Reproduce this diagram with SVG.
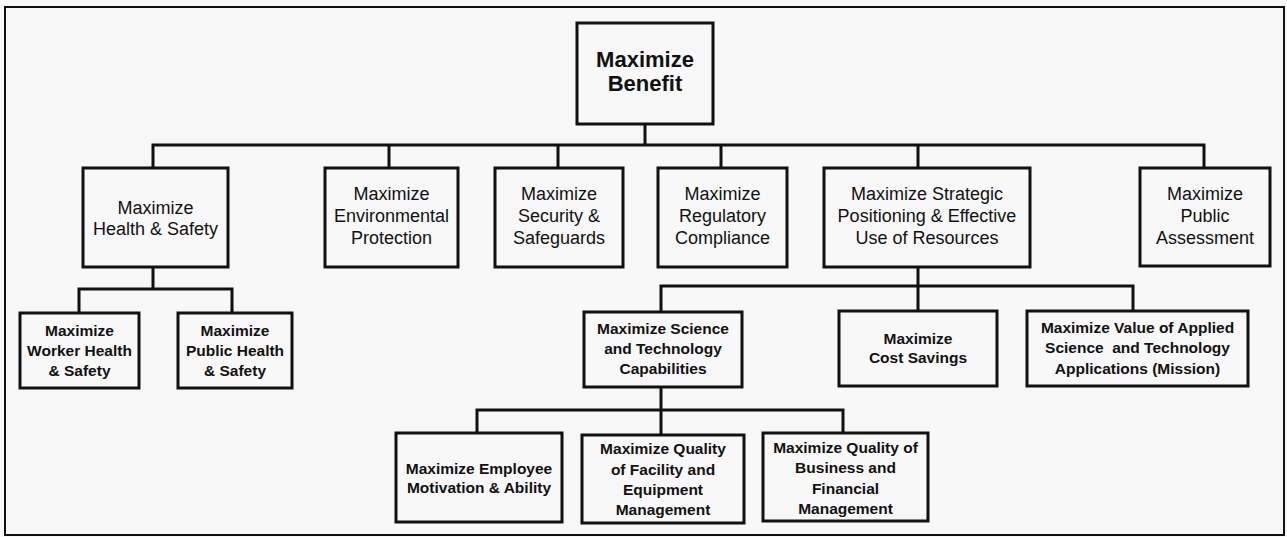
<svg xmlns="http://www.w3.org/2000/svg" width="1287" height="537" viewBox="0 0 1287 537">
<style>
.box{fill:#f8f8f8;stroke:#111;stroke-width:3}
.con{fill:none;stroke:#111;stroke-width:3;stroke-linecap:square}
text{font-family:"Liberation Sans",Arial,sans-serif;fill:#111;text-anchor:middle}
.t0{font-size:22px;font-weight:bold}
.t1{font-size:18px}
.t2{font-size:15.5px;font-weight:bold}
</style>
<rect x="0" y="0" width="1287" height="537" fill="#f8f8f8"/>
<rect x="5" y="7" width="1279" height="528" fill="none" stroke="#111" stroke-width="2"/>
<g id="connectors">
<path class="con" d="M645,124 V145 M153,145 H1204 M153,145 V168 M389,145 V168 M558,145 V168 M721,145 V168 M918,145 V168 M1204,145 V168"/>
<path class="con" d="M153,267 V289 M79,289 H232 M79,289 V313 M232,289 V313"/>
<path class="con" d="M918,267 V286 M661,286 H1133 M661,286 V312 M918,286 V311 M1133,286 V311"/>
<path class="con" d="M661,387 V410 M477,410 H843 M477,410 V433 M661,410 V435 M843,410 V433"/>
</g>
<g id="n-root"><rect class="box" x="577" y="23" width="136" height="101"/><text class="t0" x="645" y="67">Maximize</text><text class="t0" x="645" y="91">Benefit</text></g>
<g id="n-health"><rect class="box" x="83" y="168" width="145" height="99"/><text class="t1" x="155.5" y="213.5">Maximize</text><text class="t1" x="155.5" y="234.5">Health &amp; Safety</text></g>
<g id="n-env"><rect class="box" x="325" y="168" width="133" height="99"/><text class="t1" x="391.5" y="199.5">Maximize</text><text class="t1" x="391.5" y="221.5">Environmental</text><text class="t1" x="391.5" y="243.5">Protection</text></g>
<g id="n-sec"><rect class="box" x="495" y="168" width="128" height="99"/><text class="t1" x="559" y="199.5">Maximize</text><text class="t1" x="559" y="221.5">Security &amp;</text><text class="t1" x="559" y="243.5">Safeguards</text></g>
<g id="n-reg"><rect class="box" x="658" y="168" width="129" height="99"/><text class="t1" x="722.5" y="199.5">Maximize</text><text class="t1" x="722.5" y="221.5">Regulatory</text><text class="t1" x="722.5" y="243.5">Compliance</text></g>
<g id="n-strat"><rect class="box" x="824" y="168" width="206" height="99"/><text class="t1" x="927" y="199.5">Maximize Strategic</text><text class="t1" x="927" y="221.5">Positioning &amp; Effective</text><text class="t1" x="927" y="243.5">Use of Resources</text></g>
<g id="n-pub"><rect class="box" x="1140" y="168" width="130" height="98"/><text class="t1" x="1205" y="199.5">Maximize</text><text class="t1" x="1205" y="221.5">Public</text><text class="t1" x="1205" y="243.5">Assessment</text></g>
<g id="n-worker"><rect class="box" x="20" y="313" width="119" height="75"/><text class="t2" x="79.5" y="335.5">Maximize</text><text class="t2" x="79.5" y="355.5">Worker Health</text><text class="t2" x="79.5" y="375.5">&amp; Safety</text></g>
<g id="n-pubhealth"><rect class="box" x="178" y="313" width="114" height="75"/><text class="t2" x="235" y="335.5">Maximize</text><text class="t2" x="235" y="355.5">Public Health</text><text class="t2" x="235" y="375.5">&amp; Safety</text></g>
<g id="n-sci"><rect class="box" x="584" y="312" width="158" height="75"/><text class="t2" x="663" y="333.5">Maximize Science</text><text class="t2" x="663" y="353.5">and Technology</text><text class="t2" x="663" y="373.5">Capabilities</text></g>
<g id="n-cost"><rect class="box" x="839" y="311" width="158" height="75"/><text class="t2" x="918" y="343.5">Maximize</text><text class="t2" x="918" y="362.5">Cost Savings</text></g>
<g id="n-applied"><rect class="box" x="1027" y="311" width="221" height="75"/><text class="t2" x="1137.5" y="332.5">Maximize Value of Applied</text><text class="t2" x="1137.5" y="352.5" style="white-space:pre">Science  and Technology</text><text class="t2" x="1137.5" y="373.5">Applications (Mission)</text></g>
<g id="n-emp"><rect class="box" x="396" y="433" width="166" height="89"/><text class="t2" x="479" y="473.5">Maximize Employee</text><text class="t2" x="479" y="492.5">Motivation &amp; Ability</text></g>
<g id="n-fac"><rect class="box" x="582" y="435" width="162" height="88"/><text class="t2" x="663" y="453.5">Maximize Quality</text><text class="t2" x="663" y="475">of Facility and</text><text class="t2" x="663" y="495">Equipment</text><text class="t2" x="663" y="514.5">Management</text></g>
<g id="n-bus"><rect class="box" x="763" y="433" width="165" height="88"/><text class="t2" x="845.5" y="452.5">Maximize Quality of</text><text class="t2" x="845.5" y="472.5">Business and</text><text class="t2" x="845.5" y="493.5">Financial</text><text class="t2" x="845.5" y="513.5">Management</text></g>
</svg>
